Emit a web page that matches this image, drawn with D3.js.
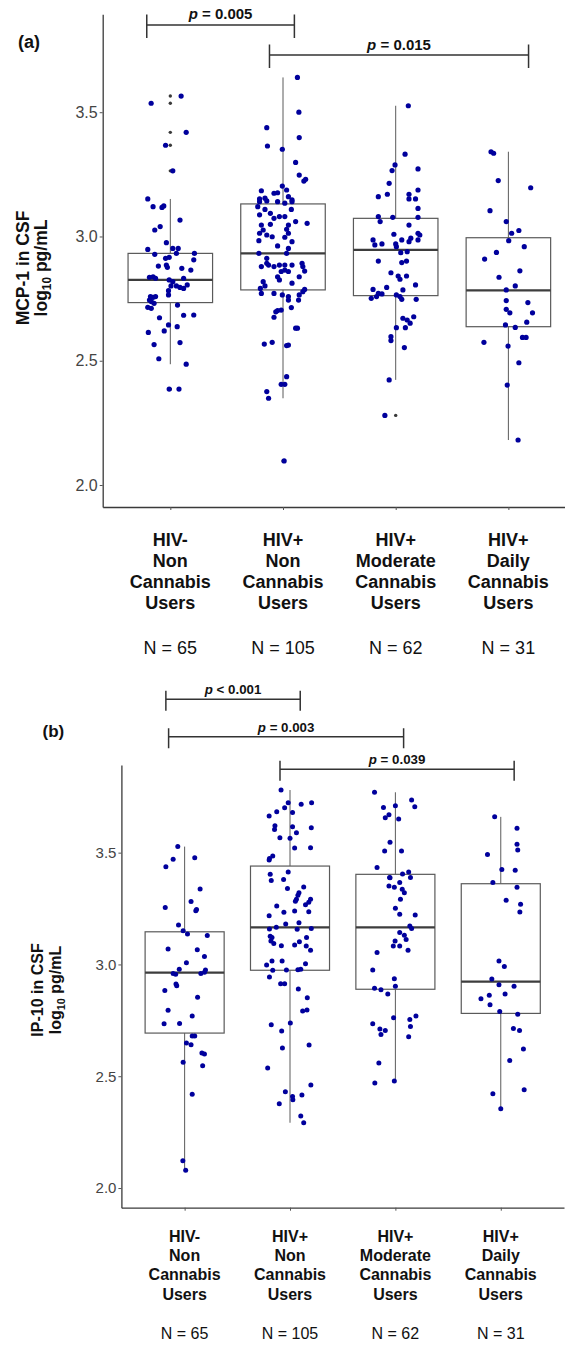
<!DOCTYPE html>
<html><head><meta charset="utf-8">
<script src="https://cdn.jsdelivr.net/npm/d3@7"></script>
<style>body{margin:0;background:#fff} svg{display:block} text{font-family:"Liberation Sans",Arial,Helvetica,sans-serif}</style>
</head><body><svg id="c" width="565" height="1345"></svg>
<script>
// ---------- DATA ----------
const categoryLines = [["HIV-","Non","Cannabis","Users"],["HIV+","Non","Cannabis","Users"],["HIV+","Moderate","Cannabis","Users"],["HIV+","Daily","Cannabis","Users"]];
const groupN = [65, 105, 62, 31];
const yTickValues = [2.0, 2.5, 3.0, 3.5];

// MCP-1 (panel a) box statistics, log10 pg/mL
const mcp1Q1 = [2.734, 2.785, 2.762, 2.637];
const mcp1Median = [2.825, 2.932, 2.946, 2.783];
const mcp1Q3 = [2.932, 3.131, 3.073, 2.995];
const mcp1WhiskerLo = [2.486, 2.349, 2.423, 2.181];
const mcp1WhiskerHi = [3.151, 3.640, 3.526, 3.341];

// MCP-1 individual points: [value, jitter (category units)]
const mcp1HivNegNon = [[3.536,-0.17],[3.565,0.096],[3.419,0.141],[3.367,-0.042],[3.264,0.022],[3.151,-0.20],
[3.120,-0.153],[3.117,-0.074],[3.123,-0.058],[3.066,0.086],[3.026,-0.138],[3.040,-0.090],[2.975,-0.035],[2.948,-0.20],[2.928,-0.138],[2.912,-0.042],[2.916,-0.010],[2.952,0.022],[2.952,0.070],[2.932,0.054],[2.932,0.214],[2.906,0.208],[2.881,-0.106],[2.885,-0.035],[2.876,-0.026],[2.872,0.102],[2.865,0.182],[2.836,-0.185],[2.838,-0.153],[2.832,-0.131],[2.825,-0.010],[2.818,0.022],[2.832,0.118],[2.801,0.006],[2.801,0.054],[2.795,0.086],[2.791,0.118],[2.805,0.150],[2.782,-0.016],[2.758,-0.176],[2.755,-0.153],[2.758,-0.131],[2.765,-0.016],[2.744,-0.185],[2.738,-0.169],[2.715,-0.20],[2.711,-0.169],[2.731,-0.144],[2.724,0.064],[2.673,-0.096],[2.683,0.118],[2.684,0.208],[2.644,-0.016],[2.637,0.061],[2.614,-0.195],[2.620,-0.054],[2.573,0.086],[2.565,-0.144],[2.508,-0.102],[2.486,0.141],[2.386,-0.010],[2.386,0.077]];
const mcp1HivPosNon = [[3.640,0.128],[3.500,0.141],[3.438,-0.144],[3.364,-0.138],[3.351,-0.006],[3.298,0.112],[3.398,0.144],[3.247,0.144],[3.223,0.185],[3.230,0.201],[3.184,-0.192],[3.174,-0.080],[3.176,-0.048],[3.203,-0.006],[3.187,0.032],[3.151,-0.208],[3.154,-0.160],[3.160,0.048],[3.147,0.080],
[3.140,-0.208],[3.143,-0.144],[3.140,-0.048],[3.134,0.016],[3.140,0.080],[3.120,-0.224],[3.109,-0.160],[3.109,0.074],[3.087,-0.208],[3.093,-0.112],[3.080,-0.032],[3.073,-0.080],[3.080,0.016],[3.046,-0.192],[3.026,-0.176],[3.049,-0.112],[3.046,0.048],[3.060,0.112],[3.053,0.214],[3.013,-0.208],[3.006,-0.144],[2.999,-0.096],[2.997,0.016],[3.013,0.048],[3.029,0.032],[2.983,-0.214],[2.962,-0.048],[2.979,0.080],[2.932,-0.214],[2.912,-0.144],[2.932,0.032],[2.952,0.048],[2.879,-0.192],[2.892,-0.144],[2.885,-0.128],[2.879,-0.080],[2.885,-0.032],[2.885,0.016],[2.885,0.080],[2.892,0.169],[2.879,0.176],[2.859,-0.016],[2.865,0.016],[2.859,0.048],[2.861,0.192],[2.838,-0.048],[2.825,-0.032],[2.838,0.144],[2.818,-0.176],[2.801,-0.160],[2.812,0.080],[2.791,-0.201],[2.771,-0.192],[2.771,-0.080],[2.787,0.192],[2.778,0.176],[2.765,-0.006],[2.758,0.048],[2.765,0.144],[2.744,0.048],[2.744,0.138],[2.697,-0.064],[2.702,-0.048],[2.704,-0.016],[2.714,0.074],[2.675,-0.080],[2.631,0.112],[2.631,0.128],[2.567,-0.166],[2.574,-0.096],[2.561,0.032],[2.563,0.048],[2.436,0.032],[2.405,-0.016],[2.405,0.016],[2.376,-0.144],[2.349,-0.128],[2.097,0.010]];
const mcp1HivPosModerate = [[3.526,0.112],[3.331,0.083],[3.288,-0.006],[3.265,-0.032],[3.272,0.198],[3.214,-0.058],[3.160,-0.154],[3.170,-0.074],[3.170,0.118],[3.187,0.198],[3.151,0.118],[3.151,0.176],
[3.113,0.198],[3.080,-0.154],[3.060,-0.138],[3.077,-0.026],[3.046,0.118],[3.077,0.198],[2.986,-0.201],[2.966,-0.185],[2.970,-0.122],[3.009,-0.016],[2.970,0.000],[2.959,0.006],[2.986,0.054],[2.979,0.118],[2.993,0.134],[3.013,0.198],[3.006,0.214],[2.986,0.198],[2.901,-0.154],[2.935,0.045],[2.939,0.102],[2.901,0.096],[2.895,0.054],[2.854,-0.042],[2.841,0.022],[2.828,0.038],[2.841,0.096],[2.787,-0.201],[2.771,-0.154],[2.769,-0.122],[2.795,-0.080],[2.785,0.064],[2.805,0.176],[2.751,-0.217],[2.758,-0.170],[2.765,0.006],[2.758,0.038],[2.747,0.054],[2.747,0.182],[2.671,0.064],[2.664,0.102],[2.651,0.128],[2.677,0.160],[2.633,0.006],[2.633,0.086],[2.597,-0.042],[2.581,-0.042],[2.553,0.077],[2.423,-0.058],[2.280,-0.096]];
const mcp1HivPosDaily = [[3.341,-0.154],[3.335,-0.131],[3.225,-0.090],[3.196,0.198],[3.104,-0.163],[3.060,-0.019],[3.013,0.029],[3.024,0.093],[2.983,0.003],[2.959,0.141],[2.909,-0.211],[2.936,-0.106],[2.862,0.102],[2.836,-0.083],[2.785,-0.019],[2.801,0.061],[2.742,-0.019],[2.734,0.173],[2.707,-0.019],[2.693,0.013],[2.693,0.214],[2.644,-0.026],[2.634,0.061],[2.655,0.163],[2.594,0.125],[2.594,0.157],[2.574,-0.217],[2.559,-0.003],[2.492,0.093],[2.402,-0.010],[2.181,0.086]];

// IP-10 (panel b) box statistics
const ip10Q1 = [2.693, 2.974, 2.889, 2.781];
const ip10Median = [2.963, 3.166, 3.166, 2.923];
const ip10Q3 = [3.146, 3.440, 3.403, 3.361];
const ip10WhiskerLo = [2.079, 2.292, 2.470, 2.355];
const ip10WhiskerHi = [3.527, 3.780, 3.770, 3.660];

const ip10HivNegNon = [[3.527,-0.065],[3.470,-0.109],[3.477,0.096],[3.437,-0.178],[3.337,0.147],[3.255,-0.184],[3.281,0.061],[3.246,0.113],[3.240,0.106],[3.176,-0.058],[3.151,-0.014],[3.136,0.027],[3.129,0.215],[3.069,-0.157],[3.066,0.120],[3.035,0.188],[3.008,0.017],[2.979,-0.051],[2.960,-0.109],[2.956,-0.085],[2.975,0.198],[2.965,0.188],[2.960,0.154],[2.912,-0.082],[2.905,-0.075],[2.883,-0.188],[2.853,0.123],[2.795,-0.157],[2.769,0.072],[2.735,-0.195],[2.736,-0.048],[2.680,0.096],[2.680,0.072],[2.649,0.017],[2.641,0.061],[2.604,0.164],[2.599,0.188],[2.562,-0.014],[2.547,0.171],[2.419,0.072],[2.122,-0.017],[2.079,0.010]];
const ip10HivPosNon = [[3.780,-0.085],[3.723,-0.017],[3.701,-0.051],[3.683,-0.126],[3.664,-0.198],[3.716,0.106],[3.723,0.205],[3.680,0.024],[3.620,-0.143],[3.604,-0.147],[3.616,0.024],[3.611,0.202],[3.589,0.061],[3.567,-0.096],[3.564,0.000],[3.521,0.044],[3.522,0.195],[3.485,-0.164],[3.474,-0.195],[3.467,-0.198],[3.413,-0.017],[3.403,-0.188],[3.380,-0.061],
[3.375,-0.178],[3.340,-0.024],[3.346,0.130],[3.321,0.085],[3.310,0.075],[3.292,0.195],[3.278,0.178],[3.292,0.061],[3.283,0.051],[3.261,-0.126],[3.218,-0.198],[3.233,-0.058],[3.239,0.044],[3.236,0.178],[3.267,0.147],[3.181,-0.041],[3.187,0.085],[3.158,-0.195],[3.166,-0.130],[3.157,0.068],[3.161,0.202],[3.126,-0.188],[3.120,-0.171],[3.105,-0.181],[3.094,-0.154],[3.084,-0.082],[3.087,0.044],[3.102,0.089],[3.120,0.157],[3.082,0.154],[3.063,0.195],[2.997,-0.222],[3.015,-0.171],[3.015,-0.075],[2.974,-0.164],[2.975,-0.034],[2.976,0.075],[2.979,0.102],[3.003,0.147],[2.944,-0.195],[2.914,-0.089],[2.914,-0.051],[2.890,0.079],[2.851,0.164],[2.792,0.120],[2.796,0.161],[2.738,0.003],[2.730,-0.178],[2.702,-0.079],[2.626,-0.072],[2.640,0.181],[2.537,-0.212],[2.431,-0.044],[2.377,-0.102],[2.409,0.024],[2.395,0.027],[2.416,0.113],[2.461,0.198],[2.322,0.102],[2.292,0.130]];
const ip10HivPosModerate = [[3.770,-0.198],[3.702,-0.113],[3.710,0.000],[3.735,0.154],[3.705,0.184],[3.656,-0.096],[3.670,-0.061],[3.650,0.031],[3.546,-0.051],[3.507,-0.102],[3.507,0.058],[3.434,-0.174],[3.404,0.068],[3.413,0.126],[3.389,-0.055],[3.389,0.143],
[3.388,-0.051],[3.366,0.041],[3.351,-0.061],[3.345,-0.010],[3.336,0.065],[3.321,0.085],[3.292,0.048],[3.251,0.000],[3.224,0.041],[3.221,0.188],[3.172,0.137],[3.161,0.154],[3.143,0.041],[3.131,0.085],[3.112,0.102],[3.105,-0.003],[3.082,-0.020],[3.082,0.041],[3.063,0.120],[3.053,-0.174],[2.975,-0.215],[2.936,-0.010],[2.893,-0.198],[2.903,0.000],[2.887,-0.137],[2.868,-0.072],[2.762,-0.017],[2.754,0.137],[2.769,0.195],[2.735,-0.215],[2.711,-0.147],[2.704,-0.096],[2.687,-0.137],[2.722,0.143],[2.677,0.126],[2.559,-0.157],[2.470,-0.195],[2.479,-0.010]];
const ip10HivPosDaily = [[3.660,-0.058],[3.609,0.154],[3.538,0.154],[3.512,0.161],[3.492,-0.126],[3.425,0.010],[3.421,0.137],[3.367,-0.075],[3.345,0.154],[3.287,0.051],[3.269,0.188],[3.234,0.181],[3.015,-0.017],[2.991,0.034],[2.935,-0.085],[2.909,-0.017],[2.902,0.126],[2.847,-0.188],[2.862,-0.109],[2.820,-0.102],[2.868,0.041],[2.789,-0.010],[2.777,0.161],[2.714,0.120],[2.705,0.178],[2.622,0.215],[2.570,0.085],[2.422,-0.075],[2.440,0.222],[2.355,0.000]];

// significance brackets: from/to in category units (0 = first group), level in log10 pg/mL
const mcp1Brackets = [
  {op:"=", p:"0.005", from:-0.209, to:1.101, level:3.851},
  {op:"=", p:"0.015", from:0.880, to:3.179, level:3.730}
];
const ip10Brackets = [
  {op:"<", p:"0.001", from:-0.178, to:1.097, level:4.186},
  {op:"=", p:"0.003", from:-0.152, to:2.078, level:4.018},
  {op:"=", p:"0.039", from:0.905, to:3.127, level:3.873}
];

// ---------- DRAW ----------
const svg = d3.select("#c");

function drawPanel(o){
  const g = svg.append("g");
  const x = d3.scalePoint().domain(d3.range(4)).range(o.xRange).padding(0.6);
  const y = d3.scaleLinear().domain(o.yDomain).range(o.yRange);
  const step = x.step(), bw = step * 0.75;
  const xu = u => x(0) + u * step;

  // axes
  const ya = g.append("g").attr("transform", `translate(${o.xRange[0]},0)`)
    .call(d3.axisLeft(y).tickValues(yTickValues).tickFormat(d3.format(".1f")).tickSize(3).tickSizeOuter(0).tickPadding(2));
  const xa = g.append("g").attr("transform", `translate(0,${o.yRange[0]})`)
    .call(d3.axisBottom(x).tickSize(3).tickSizeOuter(0).tickFormat(""));
  [ya, xa].forEach(a => {
    a.select(".domain").attr("stroke", "#3a3a3a").attr("stroke-width", 1.3);
    a.selectAll(".tick line").attr("stroke", "#555").attr("stroke-width", 1);
  });
  ya.selectAll(".tick text").attr("font-size", o.tickSize).attr("fill", "#444")
    .attr("font-family", '"Liberation Sans",Arial,sans-serif');

  // boxes
  const idx = d3.range(4);
  idx.forEach(i => {
    const cx = x(i);
    g.append("line").attr("x1", cx).attr("x2", cx).attr("y1", y(o.hi[i])).attr("y2", y(o.q3[i]))
      .attr("stroke", "#5a5a5a").attr("stroke-width", 1);
    g.append("line").attr("x1", cx).attr("x2", cx).attr("y1", y(o.q1[i])).attr("y2", y(o.lo[i]))
      .attr("stroke", "#5a5a5a").attr("stroke-width", 1);
    g.append("rect").attr("x", cx - bw/2).attr("y", y(o.q3[i])).attr("width", bw)
      .attr("height", y(o.q1[i]) - y(o.q3[i])).attr("fill", "none").attr("stroke", "#5a5a5a").attr("stroke-width", 1.2);
    g.append("line").attr("x1", cx - bw/2).attr("x2", cx + bw/2).attr("y1", y(o.med[i])).attr("y2", y(o.med[i]))
      .attr("stroke", "#3d3d3d").attr("stroke-width", 2.3);
  });

  // outliers (at group centre)
  o.points.forEach((pts, i) => {
    g.selectAll(null).data(pts.filter(d => d[0] > o.hi[i] + 0.004 || d[0] < o.lo[i] - 0.004)).join("circle")
      .attr("cx", x(i)).attr("cy", d => y(d[0])).attr("r", 1.7).attr("fill", "#3a3a3a");
  });

  // jittered points
  o.points.forEach((pts, i) => {
    g.selectAll(null).data(pts).join("circle")
      .attr("cx", d => x(i) + d[1] * step).attr("cy", d => y(d[0])).attr("r", o.dotR).attr("fill", "#00009c");
  });

  // brackets
  o.brackets.forEach(b => {
    const yl = y(b.level), x1 = xu(b.from), x2 = xu(b.to);
    const path = `M${x1},${yl - o.tickUp}V${yl + o.tickDown}M${x1},${yl}H${x2}M${x2},${yl - o.tickUp}V${yl + o.tickDown}`;
    g.append("path").attr("d", path).attr("fill", "none").attr("stroke", "#333").attr("stroke-width", 1.5);
    const t = g.append("text").attr("x", (x1 + x2)/2).attr("y", yl - o.pGap).attr("text-anchor", "middle")
      .attr("font-weight", "bold").attr("font-size", o.pSize).attr("fill", "#111");
    t.append("tspan").attr("font-style", "italic").text("p");
    t.append("tspan").text(` ${b.op} ${b.p}`);
  });

  // y-axis title
  const yt = g.append("text").attr("transform", `translate(${o.ylab.x1},${o.ylab.y}) rotate(-90)`)
    .attr("text-anchor", "middle").attr("font-weight", "bold").attr("font-size", o.ylab.size).attr("fill", "#111");
  yt.append("tspan").attr("x", 0).attr("y", 0).text(o.ylab.line1);
  yt.append("tspan").attr("x", 0).attr("y", o.ylab.x2 - o.ylab.x1).text("log");
  yt.append("tspan").attr("font-size", o.ylab.size * 0.68).attr("dy", 4).text("10");
  yt.append("tspan").attr("dy", -4).text(" pg/mL");

  // panel tag
  g.append("text").attr("x", o.tag.x).attr("y", o.tag.y).attr("font-weight", "bold")
    .attr("font-size", o.tag.size).attr("fill", "#111").text(o.tag.text);

  // category labels
  idx.forEach(i => {
    const t = g.append("text").attr("text-anchor", "middle").attr("font-weight", "bold")
      .attr("font-size", o.catSize).attr("fill", "#111");
    categoryLines[i].forEach((ln, k) => {
      t.append("tspan").attr("x", x(i)).attr("y", o.catY0 + k * o.catDy).text(ln);
    });
    g.append("text").attr("x", x(i)).attr("y", o.nY).attr("text-anchor", "middle")
      .attr("font-size", o.catSize).attr("fill", "#111").text(`N = ${groupN[i]}`);
  });
}

drawPanel({
  xRange: [102.7, 576], yDomain: [1.9115, 3.894], yRange: [507, 14.3],
  q1: mcp1Q1, med: mcp1Median, q3: mcp1Q3, lo: mcp1WhiskerLo, hi: mcp1WhiskerHi,
  points: [mcp1HivNegNon, mcp1HivPosNon, mcp1HivPosModerate, mcp1HivPosDaily],
  brackets: mcp1Brackets, tickUp: 10.5, tickDown: 13, pGap: 5.5, pSize: 15,
  tickSize: 16, dotR: 2.6,
  ylab: {x1: 28.8, x2: 47, y: 268, size: 17.5, line1: "MCP-1 in CSF"},
  tag: {x: 18, y: 48, size: 18, text: "(a)"},
  catSize: 18, catY0: 546, catDy: 21, nY: 654
});

drawPanel({
  xRange: [121.4, 564], yDomain: [1.912, 3.892], yRange: [1207.7, 765],
  q1: ip10Q1, med: ip10Median, q3: ip10Q3, lo: ip10WhiskerLo, hi: ip10WhiskerHi,
  points: [ip10HivNegNon, ip10HivPosNon, ip10HivPosModerate, ip10HivPosDaily],
  brackets: ip10Brackets, tickUp: 8.5, tickDown: 11.5, pGap: 5, pSize: 13.3,
  tickSize: 15, dotR: 2.5,
  ylab: {x1: 43.2, x2: 61.5, y: 990, size: 16, line1: "IP-10 in CSF"},
  tag: {x: 42.5, y: 737, size: 17, text: "(b)"},
  catSize: 16, catY0: 1242, catDy: 19.2, nY: 1338.5
});
</script>
</body></html>
